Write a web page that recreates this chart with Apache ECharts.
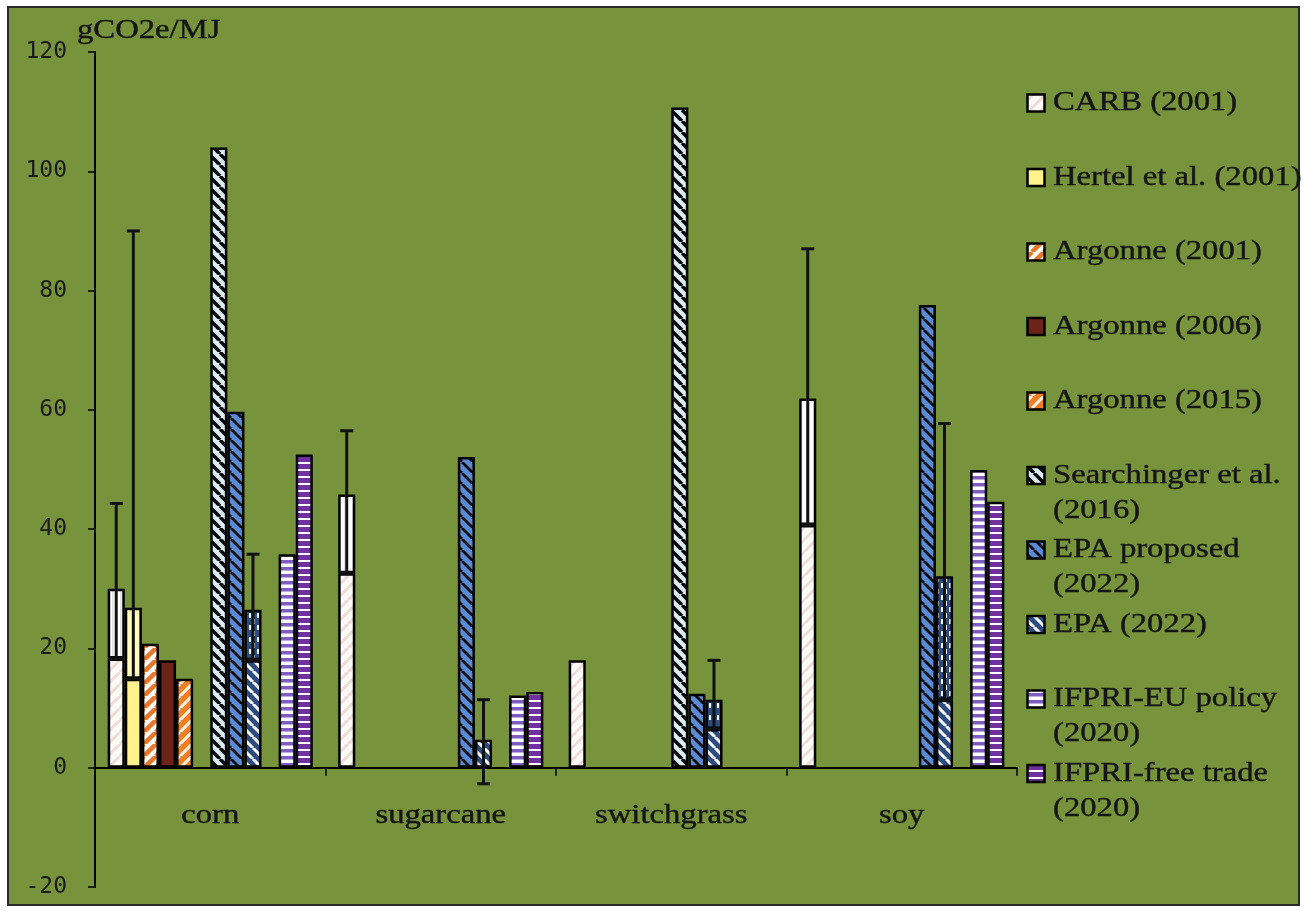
<!DOCTYPE html>
<html>
<head>
<meta charset="utf-8">
<script src="https://cdn.jsdelivr.net/npm/echarts@6/dist/echarts.min.js"></script>
<style>
  html, body { margin: 0; padding: 0; background: #ffffff; }
  #chart { width: 1305px; height: 911px; }
</style>
</head>
<body>
<div id="chart"></div>
<script>
// ---- data (gCO2e/MJ) ----
const categories = ['corn', 'sugarcane', 'switchgrass', 'soy'];
const seriesNames = [
  'CARB (2001)', 'Hertel et al. (2001)', 'Argonne (2001)', 'Argonne (2006)', 'Argonne (2015)',
  'Searchinger et al.\n(2016)', 'EPA proposed\n(2022)', 'EPA (2022)',
  'IFPRI-EU policy\n(2020)', 'IFPRI-free trade\n(2020)'
];
const yTicks = { min: -20, max: 120, step: 20 };

// central estimates (lower segment) and top of the range (upper segment)
const carb = [18.3, 32.6, 18.0, 40.7];
const carbTop = [30.0, 45.8, null, 61.9];
const carbErrHigh = [44.3, 56.5, null, 87.0];

const hertel = [14.9, null, null, null];
const hertelTop = [26.8, null, null, null];
const hertelErrHigh = [90.0, null, null, null];

const argonne2001 = [20.8, null, null, null];
const argonne2006 = [18.0, null, null, null];
const argonne2015 = [14.9, null, null, null];
const searchinger = [104.0, null, 110.7, null];
const epaProposed = [59.7, 52.1, 12.4, 77.6];

const epa2022 = [18.0, 4.7, 6.5, 11.4];
const epa2022Top = [26.5, null, 11.4, 32.1];
const epa2022ErrLow = [18.0, -2.7, 6.5, 11.4];
const epa2022ErrHigh = [35.8, 11.4, 18.0, 57.7];

const ifpriEU = [35.8, 12.1, null, 49.9];
const ifpriFree = [52.5, 12.7, null, 44.6];

// ---- fill patterns ----
function makeTile(w, h, bg, draw) {
  const c = document.createElement('canvas');
  c.width = w; c.height = h;
  const g = c.getContext('2d');
  g.fillStyle = bg; g.fillRect(0, 0, w, h);
  if (draw) draw(g);
  return { image: c, repeat: 'repeat' };
}
function diagonal(bg, fg, p, lw, dir) {
  return makeTile(p, p, bg, g => {
    g.strokeStyle = fg; g.lineWidth = lw; g.beginPath();
    for (let k = -1; k <= 1; k++) {
      if (dir === 'down') { g.moveTo(k * p, 0); g.lineTo(k * p + p, p); }
      else { g.moveTo(k * p, p); g.lineTo(k * p + p, 0); }
    }
    g.stroke();
  });
}
function horizontal(bg, fg, p, lw) {
  return makeTile(4, p, bg, g => { g.fillStyle = fg; g.fillRect(0, 0, 4, lw); });
}
function vertical(bg, fg, p, lw) {
  return makeTile(p, 4, bg, g => { g.fillStyle = fg; g.fillRect(0, 0, lw, 4); });
}

const fills = {
  carbLow: diagonal('#fdfbf7', '#f0dcd6', 12, 3, 'up'),
  carbHigh: vertical('#fcfcfc', '#e2e2e2', 8, 1.5),
  hertelLow: '#fff28c',
  hertelHigh: '#fffcbc',
  arg2001: diagonal('#fffaf4', '#e8772a', 12, 4.5, 'up'),
  arg2006: '#6e2318',
  arg2015: diagonal('#ef7f22', '#fff2e4', 12, 3, 'up'),
  searchinger: diagonal('#dcecf3', '#0a0a0a', 11, 3.5, 'down'),
  epaProposed: diagonal('#5a8bd6', '#0a0a0a', 11, 2.8, 'down'),
  epaLow: diagonal('#2c4b7e', '#ffffff', 11, 3, 'down'),
  epaHigh: makeTile(8, 12, '#2c4b7e', g => {
    g.fillStyle = '#ffffff'; g.fillRect(1, 1, 2, 5); g.fillRect(5, 7, 2, 5);
  }),
  ifpriEU: horizontal('#ffffff', '#7f5cbf', 7, 3.5),
  ifpriFree: horizontal('#7030a0', '#ffffff', 7, 2)
};
const legendFills = [fills.carbLow, fills.hertelLow, fills.arg2001, fills.arg2006, fills.arg2015,
  fills.searchinger, fills.epaProposed, fills.epaLow, fills.ifpriEU, fills.ifpriFree];

// ---- series ----
const SLOTS = 12, CAT_GAP = 0.11;
const clean = arr => arr.map(v => (v == null ? '-' : v));
const upper = (low, top) => top.map((t, i) => (t == null ? null : +(t - low[i]).toFixed(2)));

function bar(name, stack, data, color) {
  return {
    type: 'bar', name, stack, data: clean(data),
    barGap: '0%', barCategoryGap: (CAT_GAP * 100) + '%',
    itemStyle: { color, borderColor: '#000000', borderWidth: 2.5 },
    emphasis: { disabled: true }, silent: true, animation: false
  };
}

const series = [
  bar(seriesNames[0], 's0', carb, fills.carbLow),
  bar(seriesNames[0] + ' range', 's0', upper(carb, carbTop), fills.carbHigh),
  bar(seriesNames[1], 's1', hertel, fills.hertelLow),
  bar(seriesNames[1] + ' range', 's1', upper(hertel, hertelTop), fills.hertelHigh),
  bar(seriesNames[2], 's2', argonne2001, fills.arg2001),
  bar(seriesNames[3], 's3', argonne2006, fills.arg2006),
  bar(seriesNames[4], 's4', argonne2015, fills.arg2015),
  bar('spacer-a', 's5', [null, null, null, null], 'transparent'),
  bar(seriesNames[5], 's6', searchinger, fills.searchinger),
  bar(seriesNames[6], 's7', epaProposed, fills.epaProposed),
  bar(seriesNames[7], 's8', epa2022, fills.epaLow),
  bar(seriesNames[7] + ' range', 's8', upper(epa2022, epa2022Top), fills.epaHigh),
  bar('spacer-b', 's9', [null, null, null, null], 'transparent'),
  bar(seriesNames[8], 's10', ifpriEU, fills.ifpriEU),
  bar(seriesNames[9], 's11', ifpriFree, fills.ifpriFree)
];

// error bars: [category index, slot, low, high]
const errorSets = [
  { slot: 0, low: carb, high: carbErrHigh },
  { slot: 1, low: hertel, high: hertelErrHigh },
  { slot: 8, low: epa2022ErrLow, high: epa2022ErrHigh }
];
const errData = [];
errorSets.forEach(s => s.high.forEach((h, i) => {
  if (h != null && s.low[i] != null) errData.push([i, s.slot, s.low[i], h]);
}));

series.push({
  type: 'custom', name: 'error', data: errData, z: 5, silent: true, animation: false,
  encode: { x: 0, y: [2, 3] },
  renderItem(params, api) {
    const ci = api.value(0), slot = api.value(1);
    const band = api.size([1, 0])[0];
    const bw = band * (1 - CAT_GAP) / SLOTS;
    const cx = api.coord([ci, 0])[0] + (slot - (SLOTS - 1) / 2) * bw;
    const y1 = api.coord([ci, api.value(2)])[1];
    const y2 = api.coord([ci, api.value(3)])[1];
    const cap = 6.5, st = { stroke: '#111111', lineWidth: 3 };
    return {
      type: 'group', children: [
        { type: 'line', shape: { x1: cx, y1: y1, x2: cx, y2: y2 }, style: st },
        { type: 'line', shape: { x1: cx - cap, y1: y2, x2: cx + cap, y2: y2 }, style: st },
        { type: 'line', shape: { x1: cx - cap, y1: y1, x2: cx + cap, y2: y1 }, style: st }
      ]
    };
  }
});

const serif = '"Liberation Serif", "Times New Roman", serif';
const textFill = '#151515';
const STRETCH = 1.21;
// a thin outline in the text colour gives the heavier print-like strokes
const heavy = { stroke: textFill, lineWidth: 0.4 };

const chart = echarts.init(document.getElementById('chart'), null, { renderer: 'canvas' });

function frameGraphics() {
  const g = [
    { type: 'rect', z: -10, shape: { x: 8, y: 7, width: 1291, height: 898 },
      style: { fill: '#77933c', stroke: '#2a2a2a', lineWidth: 2 } },
    { type: 'text', x: 77, y: 31, scaleX: STRETCH,
      style: Object.assign({ text: 'gCO2e/MJ', font: '27px ' + serif, fill: textFill, verticalAlign: 'middle' }, heavy) }
  ];
  seriesNames.forEach((n, i) => {
    const cy = 103 + i * 74.5;
    g.push({ type: 'rect', shape: { x: 1027.5, y: cy - 8.5, width: 17, height: 17 },
      style: { fill: legendFills[i], stroke: '#000000', lineWidth: 2.5 } });
    g.push({ type: 'text', x: 1053, y: cy - 17.5, scaleX: STRETCH,
      style: Object.assign({ text: n, font: '27px ' + serif, fill: textFill, verticalAlign: 'top', lineHeight: 35 }, heavy) });
  });
  return g;
}

chart.setOption({
  backgroundColor: 'transparent',
  animation: false,
  grid: { left: 95, right: 288, top: 52, bottom: 24, containLabel: false },
  xAxis: {
    type: 'category', data: categories,
    axisLine: { onZero: true, lineStyle: { color: '#000000', width: 2 } },
    axisTick: { show: true, length: 8, interval: 0, lineStyle: { color: '#000000', width: 1.5 } },
    axisLabel: { show: false },
    splitLine: { show: false }
  },
  yAxis: {
    type: 'value', min: yTicks.min, max: yTicks.max, interval: yTicks.step,
    axisLine: { show: true, lineStyle: { color: '#000000', width: 2 } },
    axisTick: { show: true, length: 7, lineStyle: { color: '#000000', width: 1.5 } },
    axisLabel: { margin: 28, color: '#1a1a1a', fontFamily: '"DejaVu Sans Mono", monospace', fontSize: 23 },
    splitLine: { show: false }
  },
  series,
  graphic: { elements: frameGraphics() }
});

// category labels placed at the axis' own band centres
const catLabels = categories.map(c => ({
  type: 'text', x: chart.convertToPixel({ xAxisIndex: 0 }, c), y: 816, scaleX: STRETCH,
  style: Object.assign({ text: c, font: '27px ' + serif, fill: textFill, align: 'center', verticalAlign: 'middle' }, heavy)
}));
chart.setOption({ graphic: { elements: frameGraphics().concat(catLabels) } }, { replaceMerge: ['graphic'] });
</script>
</body>
</html>
